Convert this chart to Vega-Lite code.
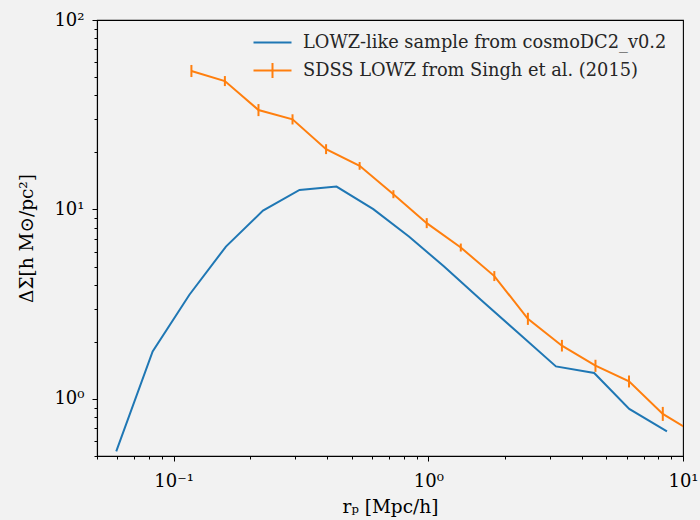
{
  "$schema": "https://vega.github.io/schema/vega-lite/v6.json",
  "width": 586,
  "height": 436,
  "autosize": {"type": "none"},
  "padding": {"left": 97, "top": 20, "right": 17, "bottom": 64},
  "background": "#f2f2f2",
  "config": {
    "view": {"stroke": "#000000", "strokeWidth": 1.1, "fill": "#f2f2f2"},
    "font": "DejaVu Serif",
    "axis": {
      "grid": false,
      "domainColor": "#000000",
      "domainWidth": 1.1,
      "tickColor": "#000000",
      "labelColor": "#000000",
      "titleColor": "#000000",
      "labelFont": "DejaVu Serif",
      "titleFont": "DejaVu Serif",
      "labelFontSize": 18,
      "titleFontSize": 18.5,
      "titleFontWeight": "normal"
    }
  },
  "datasets": {
    "sim": [
      {"series": "LOWZ-like sample from cosmoDC2_v0.2", "rp": 0.0595, "ds": 0.529},
      {"series": "LOWZ-like sample from cosmoDC2_v0.2", "rp": 0.0827, "ds": 1.782},
      {"series": "LOWZ-like sample from cosmoDC2_v0.2", "rp": 0.1153, "ds": 3.55},
      {"series": "LOWZ-like sample from cosmoDC2_v0.2", "rp": 0.1604, "ds": 6.37},
      {"series": "LOWZ-like sample from cosmoDC2_v0.2", "rp": 0.2243, "ds": 9.87},
      {"series": "LOWZ-like sample from cosmoDC2_v0.2", "rp": 0.312, "ds": 12.68},
      {"series": "LOWZ-like sample from cosmoDC2_v0.2", "rp": 0.436, "ds": 13.21},
      {"series": "LOWZ-like sample from cosmoDC2_v0.2", "rp": 0.608, "ds": 10.04},
      {"series": "LOWZ-like sample from cosmoDC2_v0.2", "rp": 0.839, "ds": 7.2},
      {"series": "LOWZ-like sample from cosmoDC2_v0.2", "rp": 1.153, "ds": 5.0},
      {"series": "LOWZ-like sample from cosmoDC2_v0.2", "rp": 1.607, "ds": 3.34},
      {"series": "LOWZ-like sample from cosmoDC2_v0.2", "rp": 2.245, "ds": 2.24},
      {"series": "LOWZ-like sample from cosmoDC2_v0.2", "rp": 3.17, "ds": 1.485},
      {"series": "LOWZ-like sample from cosmoDC2_v0.2", "rp": 4.48, "ds": 1.371},
      {"series": "LOWZ-like sample from cosmoDC2_v0.2", "rp": 6.15, "ds": 0.886},
      {"series": "LOWZ-like sample from cosmoDC2_v0.2", "rp": 8.65, "ds": 0.675}
    ],
    "obs": [
      {"series": "SDSS LOWZ from Singh et al. (2015)", "rp": 0.1174, "ds": 53.8, "lo": 50.0, "hi": 57.9},
      {"series": "SDSS LOWZ from Singh et al. (2015)", "rp": 0.1589, "ds": 47.6, "lo": 44.8, "hi": 50.6},
      {"series": "SDSS LOWZ from Singh et al. (2015)", "rp": 0.2153, "ds": 33.5, "lo": 31.1, "hi": 36.0},
      {"series": "SDSS LOWZ from Singh et al. (2015)", "rp": 0.2929, "ds": 29.9, "lo": 28.1, "hi": 31.8},
      {"series": "SDSS LOWZ from Singh et al. (2015)", "rp": 0.3967, "ds": 20.8, "lo": 19.6, "hi": 22.1},
      {"series": "SDSS LOWZ from Singh et al. (2015)", "rp": 0.5373, "ds": 17.0, "lo": 16.2, "hi": 17.8},
      {"series": "SDSS LOWZ from Singh et al. (2015)", "rp": 0.7292, "ds": 12.04, "lo": 11.47, "hi": 12.64},
      {"series": "SDSS LOWZ from Singh et al. (2015)", "rp": 0.9856, "ds": 8.47, "lo": 7.97, "hi": 9.0},
      {"series": "SDSS LOWZ from Singh et al. (2015)", "rp": 1.341, "ds": 6.3, "lo": 6.0, "hi": 6.61},
      {"series": "SDSS LOWZ from Singh et al. (2015)", "rp": 1.816, "ds": 4.45, "lo": 4.19, "hi": 4.73},
      {"series": "SDSS LOWZ from Singh et al. (2015)", "rp": 2.46, "ds": 2.65, "lo": 2.46, "hi": 2.85},
      {"series": "SDSS LOWZ from Singh et al. (2015)", "rp": 3.346, "ds": 1.91, "lo": 1.78, "hi": 2.05},
      {"series": "SDSS LOWZ from Singh et al. (2015)", "rp": 4.532, "ds": 1.5, "lo": 1.39, "hi": 1.61},
      {"series": "SDSS LOWZ from Singh et al. (2015)", "rp": 6.138, "ds": 1.238, "lo": 1.15, "hi": 1.33},
      {"series": "SDSS LOWZ from Singh et al. (2015)", "rp": 8.33, "ds": 0.834, "lo": 0.766, "hi": 0.908},
      {"series": "SDSS LOWZ from Singh et al. (2015)", "rp": 11.28, "ds": 0.652, "lo": 0.6, "hi": 0.71}
    ]
  },
  "encoding": {
    "x": {
      "field": "rp", "type": "quantitative",
      "scale": {"type": "log", "domain": [0.05, 10], "nice": false},
      "axis": {
        "title": "rₚ [Mpc/h]",
        "titlePadding": 7,
        "values": [0.05, 0.06, 0.07, 0.08, 0.09, 0.1, 0.2, 0.3, 0.4, 0.5, 0.6, 0.7, 0.8, 0.9, 1, 2, 3, 4, 5, 6, 7, 8, 9, 10],
        "labelExpr": "datum.value == 0.1 ? '10⁻¹' : datum.value == 1 ? '10⁰' : datum.value == 10 ? '10¹' : ''",
        "tickSize": {"condition": {"test": "datum.value == 0.1 || datum.value == 1 || datum.value == 10", "value": 5}, "value": 3},
        "labelPadding": 11,
        "labelFlush": false,
        "labelOverlap": false
      }
    },
    "y": {
      "field": "ds", "type": "quantitative",
      "scale": {"type": "log", "domain": [0.5, 100], "nice": false},
      "axis": {
        "title": "ΔΣ[h M⊙/pc²]",
        "titlePadding": 17,
        "values": [0.5, 0.6, 0.7, 0.8, 0.9, 1, 2, 3, 4, 5, 6, 7, 8, 9, 10, 20, 30, 40, 50, 60, 70, 80, 90, 100],
        "labelExpr": "datum.value == 1 ? '10⁰' : datum.value == 10 ? '10¹' : datum.value == 100 ? '10²' : ''",
        "tickSize": {"condition": {"test": "datum.value == 1 || datum.value == 10 || datum.value == 100", "value": 5}, "value": 3},
        "labelPadding": 8,
        "labelFlush": false,
        "labelOverlap": false
      }
    },
    "color": {
      "field": "series", "type": "nominal",
      "scale": {
        "domain": ["LOWZ-like sample from cosmoDC2_v0.2", "SDSS LOWZ from Singh et al. (2015)"],
        "range": ["#1f77b4", "#ff7f0e"]
      },
      "legend": {
        "title": null,
        "orient": "none",
        "legendX": 165,
        "legendY": 12,
        "padding": 0,
        "labelFont": "DejaVu Serif",
        "labelFontSize": 17.8,
        "labelColor": "#262626",
        "labelLimit": 0,
        "labelOffset": 20,
        "rowPadding": 6,
        "symbolSize": 361,
        "symbolStrokeWidth": 2,
        "symbolType": "M-2,0H2",
        "encode": {
          "symbols": {
            "update": {
              "shape": {"signal": "datum.value == 'SDSS LOWZ from Singh et al. (2015)' ? 'M-2,0H2M0,-0.8V0.8' : 'M-2,0H2'"},
              "strokeWidth": {"value": 2},
              "fill": {"value": "transparent"}
            }
          }
        }
      }
    }
  },
  "layer": [
    {"data": {"name": "sim"}, "mark": {"type": "line", "strokeWidth": 2, "clip": true}},
    {"data": {"name": "obs"}, "mark": {"type": "line", "strokeWidth": 2, "clip": true}},
    {
      "data": {"name": "obs"},
      "mark": {"type": "rule", "strokeWidth": 2, "clip": true},
      "encoding": {"y": {"field": "lo", "type": "quantitative"}, "y2": {"field": "hi"}}
    }
  ]
}
